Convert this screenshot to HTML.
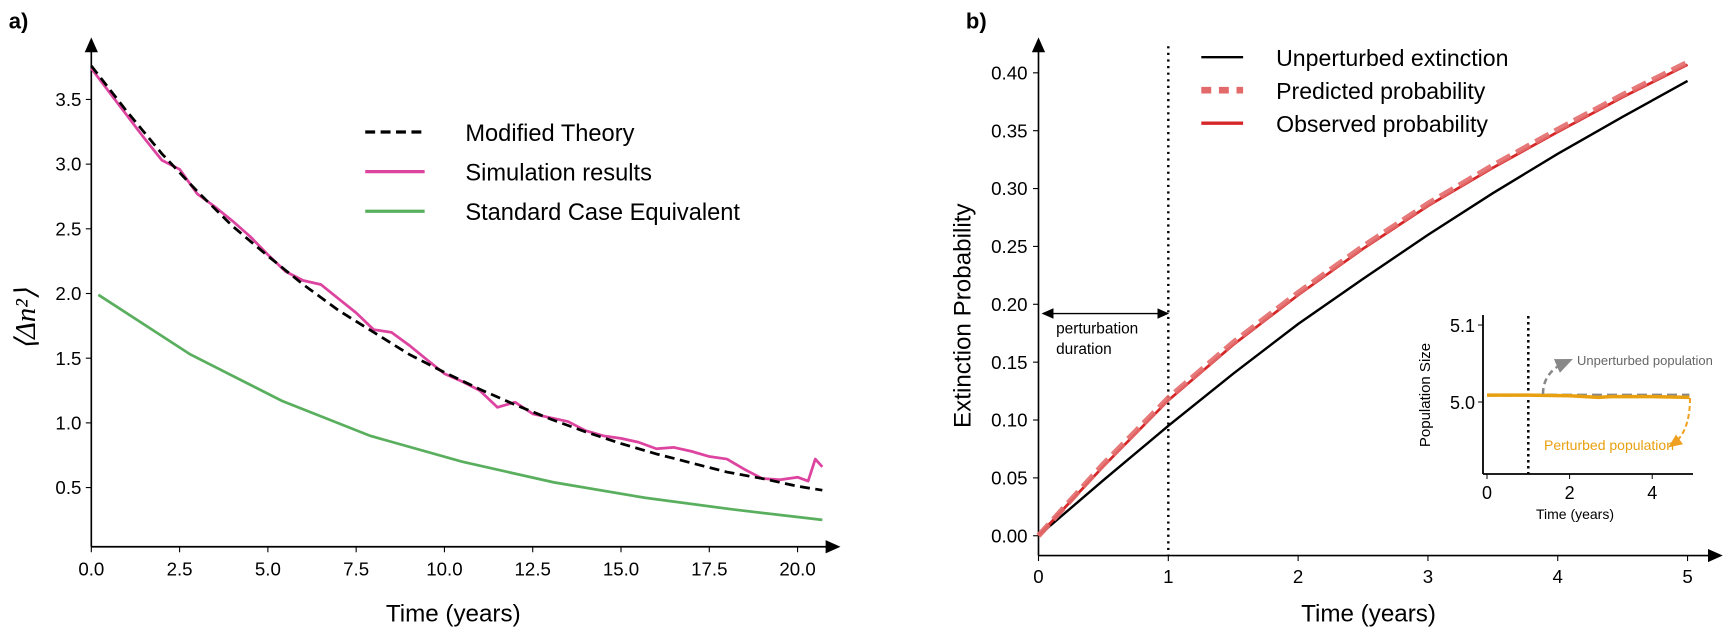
<!DOCTYPE html>
<html><head><meta charset="utf-8"><style>
html,body{margin:0;padding:0;background:#fff;}
svg{display:block;font-family:"Liberation Sans",sans-serif;}
</style></head><body>
<svg id="c" width="1725" height="629" viewBox="0 0 1725 629" xmlns="http://www.w3.org/2000/svg">
<defs>
<marker id="ah" markerWidth="10" markerHeight="10" refX="5" refY="5" orient="auto"><path d="M0,1 L9,5 L0,9 z" fill="#000"/></marker>
<marker id="ahg" markerWidth="8" markerHeight="8" refX="4" refY="4" orient="auto"><path d="M0,1 L7,4 L0,7 z" fill="#888"/></marker>
<marker id="aho" markerWidth="8" markerHeight="8" refX="4" refY="4" orient="auto"><path d="M0,1 L7,4 L0,7 z" fill="#f0a020"/></marker>
<marker id="dl" markerWidth="10" markerHeight="10" refX="1" refY="5" orient="auto"><path d="M9,1 L0,5 L9,9 z" fill="#000"/></marker>
</defs>
<g transform="scale(1.1001)">
<g id="gA"></g>
<g id="gB"></g>
</g>
<g id="gI"></g>
</svg>
<script>
// Panel a data
const aTheoryT = [0,1,2,3,4,5,6,7,8,9,10,11,12,13,14,15,16,17,18,19,20,20.7];
const aTheoryV = [3.76,3.41,3.08,2.79,2.52,2.29,2.07,1.87,1.70,1.53,1.39,1.26,1.14,1.03,0.93,0.84,0.76,0.69,0.62,0.57,0.51,0.48];
const aSimT = [0,0.5,1,1.5,2,2.5,3,3.5,4,4.5,5,5.5,6,6.5,7,7.5,8,8.5,9,9.5,10,10.5,11,11.5,12,12.5,13,13.5,14,14.5,15,15.5,16,16.5,17,17.5,18,18.5,19,19.5,20,20.3,20.5,20.7];
const aSimV = [3.74,3.56,3.38,3.20,3.03,2.96,2.77,2.67,2.56,2.44,2.30,2.17,2.10,2.07,1.96,1.85,1.72,1.70,1.60,1.49,1.38,1.32,1.25,1.12,1.16,1.07,1.04,1.01,0.94,0.90,0.88,0.85,0.80,0.81,0.78,0.74,0.72,0.64,0.57,0.56,0.58,0.55,0.72,0.66];
const aStdT = [0.2,2.8,5.4,7.9,10.5,13.1,15.7,18.2,20.7];
const aStdV = [1.99,1.53,1.17,0.90,0.70,0.54,0.42,0.33,0.25];
const aXTicks = [0,2.5,5,7.5,10,12.5,15,17.5,20];
const aXLabels = ["0.0","2.5","5.0","7.5","10.0","12.5","15.0","17.5","20.0"];
const aYTicks = [0.5,1,1.5,2,2.5,3,3.5];
const aYLabels = ["0.5","1.0","1.5","2.0","2.5","3.0","3.5"];
// Panel b data
const bT = [0,0.5,1,1.5,2,2.5,3,3.5,4,4.5,5];
const bUnpert = [0,0.048,0.095,0.140,0.183,0.222,0.260,0.296,0.330,0.362,0.393];
const bPred = [0,0.062,0.119,0.167,0.210,0.250,0.287,0.320,0.351,0.381,0.409];
const bObs = [0,0.060,0.117,0.165,0.208,0.248,0.285,0.318,0.349,0.379,0.407];
const bXTicks = [0,1,2,3,4,5];
const bYTicks = [0,0.05,0.1,0.15,0.2,0.25,0.3,0.35,0.4];
const bYLabels = ["0.00","0.05","0.10","0.15","0.20","0.25","0.30","0.35","0.40"];
const iT = [0,1,2,2.7,3,4,4.9];
const iPert = [5.009,5.009,5.008,5.006,5.007,5.007,5.006];
const iUnpert = [5.009,5.009,5.009,5.009,5.009,5.009,5.009];
const iXTicks = [0,2,4];
const iYTicks = [5.0,5.1];
const iYLabels = ["5.0","5.1"];

const NS="http://www.w3.org/2000/svg";
function mk(parent,tag,attrs,txt){const e=document.createElementNS(NS,tag);for(const k in attrs)e.setAttribute(k,attrs[k]);if(txt!==undefined)e.textContent=txt;parent.appendChild(e);return e;}
function pathD(ts,vs,sx,sy){return ts.map((t,i)=>(i?'L':'M')+sx(t).toFixed(1)+','+sy(vs[i]).toFixed(1)).join(' ');}

// ---- Panel A ----
const A=document.getElementById('gA');
const ax=t=>83+t*32.1, ay=v=>502-v*117.6;
let e;
e=mk(A,'text',{x:8,y:26,'font-size':20,'font-weight':'bold'},'a)');

e=mk(A,'line',{x1:83,y1:497,x2:83,y2:40,stroke:'#000','stroke-width':1.5,'marker-end':'url(#ah)'});

e=mk(A,'line',{x1:83,y1:497,x2:758,y2:497,stroke:'#000','stroke-width':1.5,'marker-end':'url(#ah)'});

aXTicks.forEach((t,i)=>{mk(A,'line',{x1:ax(t),y1:497,x2:ax(t),y2:502,stroke:'#000'});
 const l=mk(A,'text',{x:ax(t),y:523,'font-size':17,'text-anchor':'middle'},aXLabels[i]);
 });
aYTicks.forEach((v,i)=>{mk(A,'line',{x1:78,y1:ay(v),x2:83,y2:ay(v),stroke:'#000'});
 const l=mk(A,'text',{x:74,y:ay(v)+6,'font-size':17,'text-anchor':'end'},aYLabels[i]);
 });
e=mk(A,'text',{x:412,y:565,'font-size':22,'text-anchor':'middle'},'Time (years)');

e=mk(A,'text',{x:0,y:0,'font-size':26,'text-anchor':'middle','font-family':'Liberation Serif, serif','font-style':'italic',transform:'translate(32,290) rotate(-90)'},'⟨Δn²⟩');

e=mk(A,'path',{d:pathD(aStdT,aStdV,ax,ay),fill:'none',stroke:'#5aaf5f','stroke-width':2.5});

e=mk(A,'path',{d:pathD(aSimT,aSimV,ax,ay),fill:'none',stroke:'#dd44a0','stroke-width':2.5,'stroke-linejoin':'round'});

e=mk(A,'path',{d:pathD(aTheoryT,aTheoryV,ax,ay),fill:'none',stroke:'#000','stroke-width':2.5,'stroke-dasharray':'9,5'});

const la=[['Modified Theory','#000','9,5'],['Simulation results','#dd44a0',''],['Standard Case Equivalent','#5aaf5f','']];
la.forEach((r,i)=>{const y=120+i*36;
 const l=mk(A,'line',{x1:332,y1:y,x2:386,y2:y,stroke:r[1],'stroke-width':3,'stroke-dasharray':r[2]});
 
 const t=mk(A,'text',{x:423,y:y+8,'font-size':21.5},r[0]);
 });

// ---- Panel B ----
const B=document.getElementById('gB');
const bx=t=>944+t*118, by=v=>487-v*1052;
e=mk(B,'text',{x:878,y:26,'font-size':20,'font-weight':'bold'},'b)');

e=mk(B,'line',{x1:944,y1:505,x2:944,y2:40,stroke:'#000','stroke-width':1.5,'marker-end':'url(#ah)'});

e=mk(B,'line',{x1:944,y1:505,x2:1560,y2:505,stroke:'#000','stroke-width':1.5,'marker-end':'url(#ah)'});

bXTicks.forEach(t=>{mk(B,'line',{x1:bx(t),y1:505,x2:bx(t),y2:510,stroke:'#000'});
 const l=mk(B,'text',{x:bx(t),y:530,'font-size':17,'text-anchor':'middle'},String(t));
 });
bYTicks.forEach((v,i)=>{mk(B,'line',{x1:939,y1:by(v),x2:944,y2:by(v),stroke:'#000'});
 const l=mk(B,'text',{x:934,y:by(v)+6,'font-size':17,'text-anchor':'end'},bYLabels[i]);
 });
e=mk(B,'text',{x:1244,y:565,'font-size':22,'text-anchor':'middle'},'Time  (years)');

e=mk(B,'text',{x:0,y:0,'font-size':22,'text-anchor':'middle',transform:'translate(882,287) rotate(-90)'},'Extinction Probability');

e=mk(B,'line',{x1:bx(1),y1:42,x2:bx(1),y2:505,stroke:'#000','stroke-width':2.2,'stroke-dasharray':'2,4'});

e=mk(B,'line',{x1:948,y1:285,x2:1058,y2:285,stroke:'#000','stroke-width':1.2,'marker-end':'url(#ah)','marker-start':'url(#dl)'});

e=mk(B,'text',{x:960,y:303,'font-size':14},'perturbation');

e=mk(B,'text',{x:960,y:322,'font-size':14},'duration');

e=mk(B,'path',{d:pathD(bT,bUnpert,bx,by),fill:'none',stroke:'#000','stroke-width':2.2});

e=mk(B,'path',{d:pathD(bT,bObs,bx,by),fill:'none',stroke:'#d62728','stroke-width':2.5});

e=mk(B,'path',{d:pathD(bT,bPred,bx,by),fill:'none',stroke:'#e36a6a','stroke-width':5,'stroke-dasharray':'14,6','opacity':0.9});

const lb=[['Unperturbed extinction','#000','',2.2],['Predicted probability','#e36a6a','9,7',6],['Observed probability','#d62728','',3]];
lb.forEach((r,i)=>{const y=52+i*30;
 const l=mk(B,'line',{x1:1092,y1:y,x2:1130,y2:y,stroke:r[1],'stroke-width':r[3],'stroke-dasharray':r[2]});
 
 const t=mk(B,'text',{x:1160,y:y+8,'font-size':21},r[0]);
 });

// ---- Inset (real pixel coords) ----
const I=document.getElementById('gI');
const ix=t=>1487+t*41.3, iy=v=>402-(v-5.0)*770;
mk(I,'line',{x1:1483,y1:315,x2:1483,y2:474,stroke:'#000','stroke-width':1.8});
mk(I,'line',{x1:1483,y1:474,x2:1693,y2:474,stroke:'#000','stroke-width':1.8});
iXTicks.forEach(t=>{mk(I,'line',{x1:ix(t),y1:474,x2:ix(t),y2:479,stroke:'#000'});
 const l=mk(I,'text',{x:ix(t),y:499,'font-size':18,'text-anchor':'middle'},String(t));
 });
iYTicks.forEach((v,i)=>{mk(I,'line',{x1:1478,y1:iy(v),x2:1483,y2:iy(v),stroke:'#000'});
 const l=mk(I,'text',{x:1475,y:iy(v)+7,'font-size':18,'text-anchor':'end'},iYLabels[i]);
 });
e=mk(I,'text',{x:1575,y:519,'font-size':14,'text-anchor':'middle'},'Time (years)');

e=mk(I,'text',{x:0,y:0,'font-size':15,'text-anchor':'middle',transform:'translate(1430,395) rotate(-90)'},'Population Size');

mk(I,'line',{x1:ix(1),y1:316,x2:ix(1),y2:474,stroke:'#000','stroke-width':2.5,'stroke-dasharray':'2.5,3.5'});
e=mk(I,'path',{d:pathD(iT,iUnpert,ix,iy),fill:'none',stroke:'#888','stroke-width':3,'stroke-dasharray':'10,5'});

e=mk(I,'path',{d:pathD(iT,iPert,ix,iy),fill:'none',stroke:'#e8a010','stroke-width':3.5});

mk(I,'path',{d:'M1543,394 Q1543,372 1566,362',fill:'none',stroke:'#888','stroke-width':2.5,'stroke-dasharray':'6,4','marker-end':'url(#ahg)'});
e=mk(I,'text',{x:1577,y:365,'font-size':13,fill:'#666'},'Unperturbed population');

mk(I,'path',{d:'M1690,398 Q1690,432 1673,444',fill:'none',stroke:'#f0a020','stroke-width':2,'stroke-dasharray':'5,3','marker-end':'url(#aho)'});
e=mk(I,'text',{x:1544,y:450,'font-size':14,fill:'#e8a010'},'Perturbed population');

</script>
</body></html>
